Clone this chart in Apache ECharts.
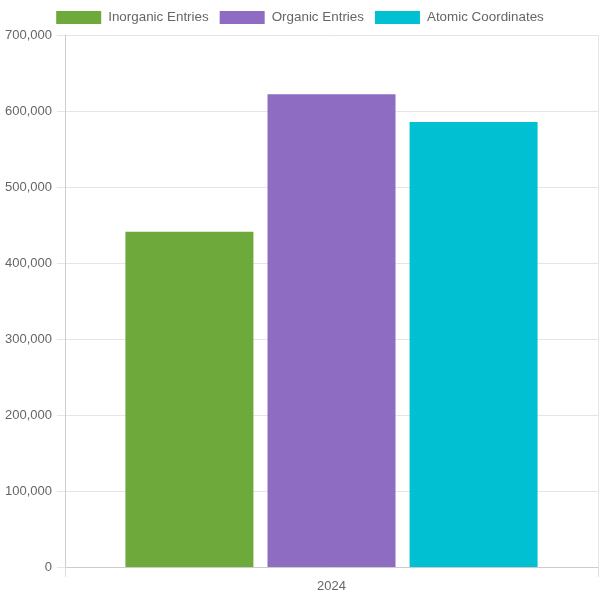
<!DOCTYPE html>
<html>
<head>
<meta charset="utf-8">
<script src="https://cdn.jsdelivr.net/npm/echarts@6/dist/echarts.min.js"></script>
<style>
  html, body { margin: 0; padding: 0; background: #fff; }
  #chart { width: 600px; height: 600px; }
</style>
</head>
<body>
<div id="chart"></div>
<script>
// data
const categories = ["2024"];
const seriesNames = ["Inorganic Entries", "Organic Entries", "Atomic Coordinates"];
const inorganic = [441000];
const organic = [622000];
const atomic = [585500];
const baseColors = ["#6daa3b", "#8e6cc2", "#00c0d1"];

const values = [inorganic, organic, atomic];
const font = "'Liberation Sans', Arial, sans-serif";

let series = seriesNames.map((name, i) => ({
  name: name,
  type: "bar",
  data: values[i],
  barWidth: 128,
  barGap: "11%",
  itemStyle: { color: baseColors[i] },
  emphasis: { disabled: true },
}));

let myChart = echarts.init(document.getElementById("chart"));
myChart.setOption({
  animation: false,
  textStyle: { fontFamily: font },
  legend: {
    top: 6,
    left: "center",
    icon: "rect",
    itemWidth: 45,
    itemHeight: 13,
    itemGap: 11,
    textStyle: {
      color: "#666",
      fontSize: 13.4,
      fontFamily: font,
      padding: [0, 1, 0, 2],
    },
  },
  grid: { left: 65, right: 2, top: 35, bottom: 33 },
  xAxis: {
    type: "category",
    data: categories,
    axisLine: { lineStyle: { color: "#ccc" } },
    axisTick: { show: true, length: 10, lineStyle: { color: "#ddd" } },
    splitLine: { show: true, lineStyle: { color: "#e5e5e5" } },
    axisLabel: { color: "#666", fontSize: 13, margin: 13, fontFamily: font },
  },
  yAxis: {
    type: "value",
    min: 0,
    max: 700000,
    interval: 100000,
    axisLine: { show: true, lineStyle: { color: "#ccc" } },
    axisTick: { show: true, length: 8, lineStyle: { color: "#e5e5e5" } },
    splitLine: { lineStyle: { color: "#e5e5e5" } },
    axisLabel: {
      color: "#666",
      fontSize: 13,
      margin: 13,
      fontFamily: font,
      formatter: (v) => v.toLocaleString("en-US"),
    },
  },
  series,
});
</script>
</body>
</html>
